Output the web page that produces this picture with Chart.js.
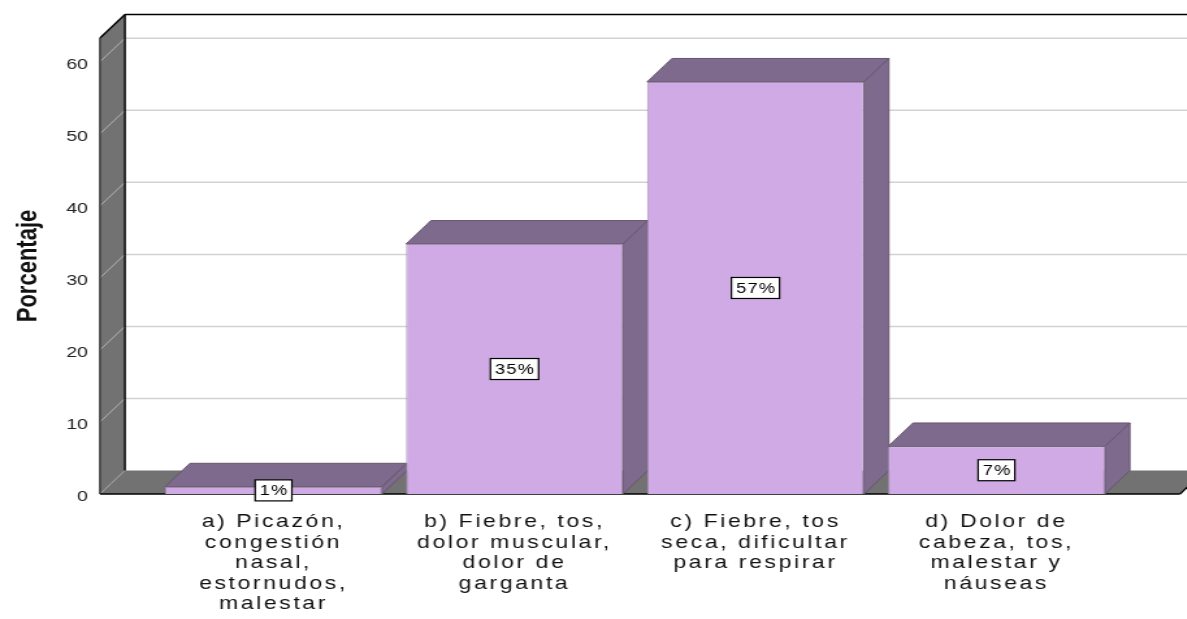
<!DOCTYPE html>
<html lang="es">
<head>
    <meta charset="UTF-8">
    <title>Porcentaje</title>
    <script src="https://cdn.jsdelivr.net/npm/chart.js"></script>
    <style>
        body { margin: 0; background: #fff; overflow: hidden; }
        /* el original esta estirado en horizontal */
        .chart-container {
            width: 913px;
            height: 619px;
            transform: scaleX(1.3);
            transform-origin: 0 0;
        }
    </style>
</head>
<body>
    <div class="chart-container">
        <canvas id="grafico"></canvas>
    </div>
    <script>
        const categorias = [
            ['a) Picazón,', 'congestión', 'nasal,', 'estornudos,', 'malestar'],
            ['b) Fiebre, tos,', 'dolor muscular,', 'dolor de', 'garganta'],
            ['c) Fiebre, tos', 'seca, dificultar', 'para respirar'],
            ['d) Dolor de', 'cabeza, tos,', 'malestar y', 'náuseas']
        ];
        const porcentajes = [1, 34.7, 57.2, 6.6];
        const ticksY = [0, 10, 20, 30, 40, 50, 60];

        const fuente = 'Liberation Sans, Arial, sans-serif';
        const dx = 19.2, dy = -23.5;

        function poly(ctx, pts) {
            ctx.beginPath();
            ctx.moveTo(pts[0][0], pts[0][1]);
            for (let i = 1; i < pts.length; i++) ctx.lineTo(pts[i][0], pts[i][1]);
            ctx.closePath();
        }
        function line(ctx, x1, y1, x2, y2) {
            ctx.beginPath();
            ctx.moveTo(x1, y1);
            ctx.lineTo(x2, y2);
            ctx.stroke();
        }

        // paredes, suelo, rejilla y caras 3d de las barras
        const efecto3d = {
            id: 'efecto3d',
            beforeDatasetsDraw(chart) {
                const { ctx, chartArea: a, scales: { y } } = chart;
                const y0 = y.getPixelForValue(0);
                const yTop = y.getPixelForValue(y.max);
                const wl = a.left - 40.8;
                const fr = a.right + 48.5;
                ctx.save();

                // rejilla del fondo
                ctx.strokeStyle = '#d2d2d2';
                ctx.lineWidth = 1.5;
                ticksY.forEach(v => {
                    if (v === 0) return;
                    const py = y.getPixelForValue(v);
                    line(ctx, wl + dx, py + dy, chart.width, py + dy);
                });

                // pared izquierda
                ctx.fillStyle = '#727272';
                poly(ctx, [[wl, y0], [wl, yTop], [wl + dx, yTop + dy], [wl + dx, y0 + dy]]);
                ctx.fill();
                ctx.strokeStyle = '#b0b0b0';
                ctx.lineWidth = 1;
                ticksY.forEach(v => {
                    if (v === 0) return;
                    const py = y.getPixelForValue(v);
                    line(ctx, wl, py, wl + dx, py + dy);
                });

                // suelo
                ctx.fillStyle = '#727272';
                poly(ctx, [[wl, y0], [fr, y0], [fr + dx, y0 + dy], [wl + dx, y0 + dy]]);
                ctx.fill();
                ctx.strokeStyle = '#a0a0a0';
                line(ctx, wl, y0, wl + dx, y0 + dy);

                // bordes
                ctx.strokeStyle = '#000';
                ctx.lineWidth = 1.4;
                line(ctx, wl + dx, yTop + dy, chart.width, yTop + dy);
                line(ctx, wl, yTop, wl + dx, yTop + dy);
                line(ctx, wl + dx, yTop + dy, wl + dx, y0 + dy);
                ctx.strokeStyle = '#333';
                line(ctx, wl, yTop, wl, y0);
                ctx.strokeStyle = '#000';
                line(ctx, wl, y0, fr, y0);
                line(ctx, fr, y0, fr + dx, y0 + dy);

                // tapa y lateral de cada barra
                chart.getDatasetMeta(0).data.forEach(bar => {
                    const p = bar.getProps(['x', 'y', 'width', 'base'], true);
                    const x0 = p.x - p.width / 2, x1 = p.x + p.width / 2;
                    ctx.fillStyle = '#7e6a8c';
                    ctx.strokeStyle = '#675770';
                    ctx.lineWidth = 1;
                    poly(ctx, [[x0, p.y], [x1, p.y], [x1 + dx, p.y + dy], [x0 + dx, p.y + dy]]);
                    ctx.fill();
                    ctx.stroke();
                    poly(ctx, [[x1, p.y], [x1 + dx, p.y + dy], [x1 + dx, p.base + dy], [x1, p.base]]);
                    ctx.fill();
                    ctx.stroke();
                });
                ctx.restore();
            },
            afterDatasetsDraw(chart) {
                const { ctx } = chart;
                ctx.save();
                ctx.font = '14px ' + fuente;
                ctx.letterSpacing = '1px';
                ctx.textAlign = 'center';
                ctx.textBaseline = 'middle';
                chart.getDatasetMeta(0).data.forEach((bar, i) => {
                    const p = bar.getProps(['x', 'y', 'base'], true);
                    const txt = Math.round(porcentajes[i]) + '%';
                    const cy = (p.y + p.base) / 2;
                    const w = ctx.measureText(txt).width + 6;
                    const h = 21;
                    ctx.fillStyle = '#fff';
                    ctx.fillRect(p.x - w / 2, cy - h / 2, w, h);
                    ctx.strokeStyle = '#000';
                    ctx.lineWidth = 1.2;
                    ctx.strokeRect(p.x - w / 2, cy - h / 2, w, h);
                    ctx.fillStyle = '#000';
                    ctx.fillText(txt, p.x + 0.5, cy + 1);
                });
                ctx.restore();
                // las etiquetas del eje x (z: 1) se dibujan despues, mas espaciadas
                ctx.letterSpacing = '2px';
            },
            afterDraw(chart) {
                chart.ctx.letterSpacing = '0px';
            }
        };

        const ctxGrafico = document.getElementById('grafico').getContext('2d');
        const grafico = new Chart(ctxGrafico, {
            type: 'bar',
            data: {
                labels: categorias,
                datasets: [{
                    label: 'Porcentaje',
                    data: porcentajes,
                    backgroundColor: '#cfaae4',
                    borderColor: '#a08cad',
                    borderWidth: 1,
                    categoryPercentage: 0.9,
                    barPercentage: 1
                }]
            },
            plugins: [efecto3d],
            options: {
                responsive: true,
                maintainAspectRatio: false,
                animation: false,
                layout: { padding: { left: 8.3, top: 38, right: 53.8, bottom: 0 } },
                plugins: {
                    legend: { display: false },
                    tooltip: { enabled: false }
                },
                scales: {
                    x: {
                        grid: { display: false, drawTicks: false },
                        border: { display: false },
                        ticks: {
                            z: 1,
                            color: '#111',
                            font: { family: fuente, size: 17.7, lineHeight: 1.16 },
                            padding: 18,
                            maxRotation: 0,
                            autoSkip: false
                        },
                        afterFit(s) {
                            s.height = 125;
                            s.paddingLeft = 0;
                            s.paddingRight = 0;
                        }
                    },
                    y: {
                        min: 0,
                        max: 63.3,
                        grid: { display: false, drawTicks: false },
                        border: { display: false },
                        afterBuildTicks(s) { s.ticks = ticksY.map(v => ({ value: v })); },
                        ticks: {
                            color: '#222',
                            font: { family: fuente, size: 15 },
                            padding: 50,
                            labelOffset: 3
                        },
                        title: {
                            display: true,
                            text: 'Porcentaje',
                            color: '#111',
                            font: { family: fuente, size: 22, weight: 'bold', lineHeight: 1.2 },
                            padding: 0
                        },
                        afterFit(s) {
                            s.width = 109.4;
                            s.paddingTop = 0;
                            s.paddingBottom = 0;
                        }
                    }
                }
            }
        });
    </script>
</body>
</html>
